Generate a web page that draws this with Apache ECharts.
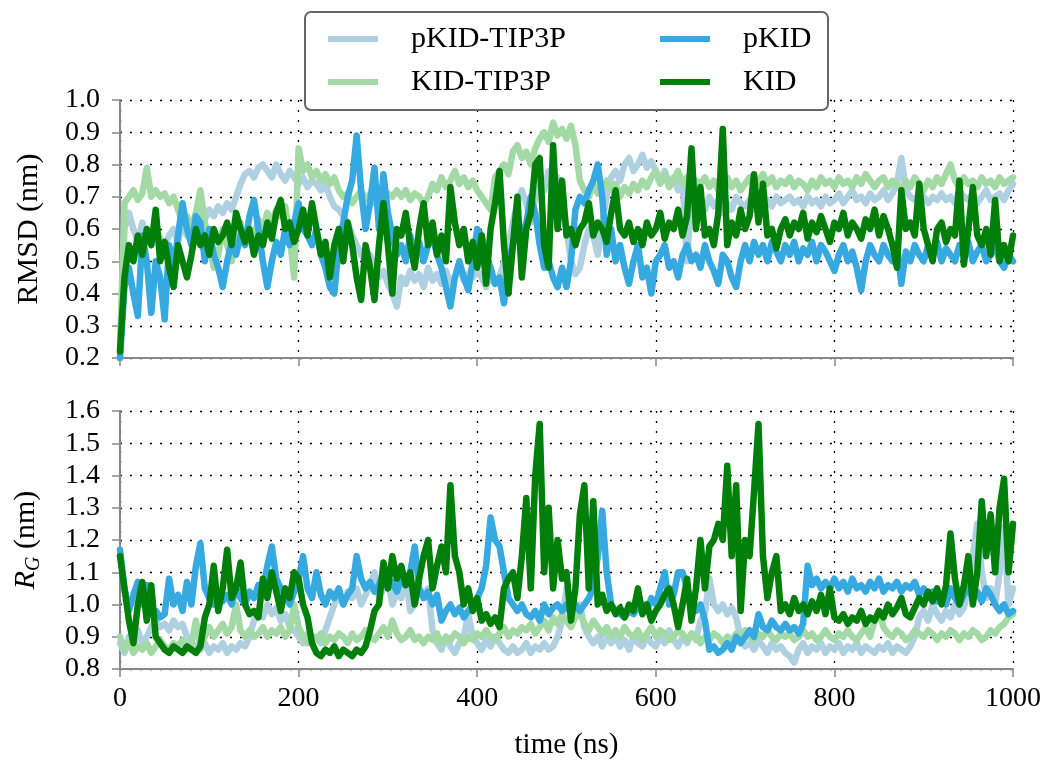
<!DOCTYPE html>
<html>
<head>
<meta charset="utf-8">
<script src="https://cdn.jsdelivr.net/npm/echarts@6/dist/echarts.min.js"></script>
<style>
  html, body { margin: 0; padding: 0; background: #fff; }
  #chart { width: 1046px; height: 762px; }
</style>
</head>
<body>
<div id="chart"></div>
<script>
// sampled every 5 ns, 0 .. 1000 ns
const STEP = 5
const xTicks = [0, 200, 400, 600, 800, 1000]

// RMSD (nm)
const rmsdPKIDT = [
  0.2, 0.6, 0.65, 0.6, 0.56, 0.62, 0.58, 0.55, 0.6, 0.57,
  0.55, 0.58, 0.6, 0.56, 0.62, 0.58, 0.6, 0.62, 0.65, 0.63,
  0.66, 0.64, 0.67, 0.65, 0.68, 0.66, 0.7, 0.74, 0.77, 0.78,
  0.76, 0.79, 0.8, 0.78, 0.76, 0.8, 0.77, 0.75, 0.78, 0.76,
  0.74, 0.76, 0.73, 0.75, 0.74, 0.72, 0.74, 0.7, 0.67, 0.66,
  0.64, 0.62, 0.58, 0.55, 0.52, 0.5, 0.52, 0.48, 0.45, 0.47,
  0.43, 0.4, 0.36, 0.45, 0.43, 0.47, 0.44, 0.46, 0.42, 0.48,
  0.44, 0.46, 0.43, 0.47, 0.43, 0.45, 0.48, 0.44, 0.46, 0.45,
  0.47, 0.45, 0.42, 0.46, 0.43, 0.45, 0.5, 0.55, 0.62, 0.68,
  0.72, 0.68, 0.62, 0.7, 0.75, 0.72, 0.78, 0.74, 0.76, 0.7,
  0.6, 0.5, 0.46, 0.48, 0.55, 0.6, 0.58, 0.52, 0.62, 0.7,
  0.76, 0.78, 0.75, 0.8, 0.82, 0.78, 0.8, 0.83, 0.79, 0.81,
  0.78, 0.75, 0.78, 0.74, 0.76, 0.72, 0.75, 0.5, 0.72, 0.7,
  0.68, 0.66, 0.7, 0.67, 0.69, 0.65, 0.68, 0.66, 0.7, 0.68,
  0.67, 0.69, 0.66, 0.7, 0.68, 0.69, 0.67, 0.7, 0.68, 0.69,
  0.7, 0.68, 0.69, 0.67, 0.7, 0.68, 0.69, 0.67, 0.7, 0.68,
  0.69, 0.71, 0.68, 0.7, 0.72, 0.69, 0.7, 0.68, 0.71, 0.69,
  0.7, 0.72, 0.69, 0.71, 0.74, 0.82, 0.72, 0.7, 0.69, 0.71,
  0.7, 0.68, 0.7, 0.69, 0.71, 0.69, 0.7, 0.68, 0.72, 0.7,
  0.69, 0.71, 0.68, 0.7, 0.72, 0.69, 0.7, 0.71, 0.69, 0.72,
  0.74
]
const rmsdKIDT = [
  0.22, 0.68, 0.7, 0.72, 0.69, 0.71, 0.79, 0.7, 0.72, 0.7,
  0.71, 0.68, 0.7, 0.66, 0.62, 0.64, 0.6, 0.65, 0.72, 0.62,
  0.55, 0.48, 0.52, 0.6, 0.55, 0.5, 0.58, 0.62, 0.55, 0.6,
  0.58, 0.63, 0.6, 0.65, 0.62, 0.66, 0.64, 0.67, 0.58, 0.45,
  0.85, 0.78, 0.8, 0.76, 0.78, 0.75, 0.77, 0.74, 0.76, 0.72,
  0.7, 0.71, 0.68, 0.7, 0.72, 0.69, 0.71, 0.68, 0.7, 0.69,
  0.71, 0.7, 0.72, 0.7, 0.72, 0.69, 0.71, 0.7, 0.68, 0.7,
  0.74, 0.72, 0.76, 0.73, 0.75, 0.78, 0.74, 0.76, 0.73, 0.75,
  0.72, 0.7, 0.68, 0.66, 0.76, 0.78, 0.8, 0.77, 0.84, 0.86,
  0.82, 0.84, 0.8, 0.85, 0.88, 0.9, 0.87, 0.93, 0.89, 0.91,
  0.88, 0.92, 0.86, 0.75, 0.72, 0.7, 0.74, 0.71, 0.72, 0.75,
  0.72, 0.74, 0.7, 0.73, 0.71, 0.74, 0.72, 0.75, 0.73, 0.76,
  0.78, 0.74, 0.77, 0.73, 0.75, 0.78, 0.74, 0.76, 0.72, 0.75,
  0.74, 0.76, 0.73, 0.75, 0.72, 0.74, 0.76, 0.73, 0.75, 0.72,
  0.74, 0.76, 0.73, 0.75, 0.77, 0.74, 0.76, 0.73, 0.75, 0.74,
  0.76, 0.73, 0.75, 0.74, 0.72, 0.75, 0.73, 0.76, 0.74, 0.75,
  0.73, 0.76, 0.74, 0.75, 0.73, 0.76, 0.74, 0.77, 0.75, 0.73,
  0.75, 0.76, 0.73, 0.75, 0.74, 0.72, 0.75, 0.73, 0.76, 0.74,
  0.72, 0.75, 0.73, 0.76, 0.74, 0.77, 0.8, 0.75, 0.73, 0.76,
  0.74, 0.75, 0.73, 0.76, 0.74, 0.75, 0.73, 0.76, 0.74, 0.75,
  0.76
]
const rmsdPKID = [
  0.2, 0.42, 0.48, 0.4, 0.33, 0.58, 0.5, 0.34, 0.5, 0.45,
  0.32, 0.55, 0.48, 0.58, 0.68, 0.6, 0.55, 0.64, 0.62, 0.5,
  0.6, 0.52, 0.48, 0.42, 0.5, 0.56, 0.52, 0.58, 0.55, 0.64,
  0.69, 0.6, 0.5, 0.42, 0.5, 0.56, 0.52, 0.6, 0.55, 0.62,
  0.68, 0.6, 0.58, 0.55, 0.6, 0.52, 0.48, 0.42, 0.4, 0.55,
  0.62, 0.7, 0.75, 0.89, 0.72, 0.6, 0.68, 0.79, 0.6, 0.77,
  0.65, 0.58, 0.52, 0.55, 0.5, 0.58, 0.52, 0.56, 0.5, 0.55,
  0.58, 0.52, 0.48, 0.42, 0.36, 0.45, 0.5, 0.45, 0.41, 0.5,
  0.6, 0.58, 0.52, 0.48, 0.43, 0.45, 0.37, 0.5, 0.55, 0.6,
  0.58, 0.62, 0.7, 0.65, 0.55, 0.48, 0.5, 0.45, 0.42, 0.48,
  0.42, 0.5, 0.66, 0.7, 0.68, 0.72, 0.75, 0.8, 0.7, 0.52,
  0.6, 0.5, 0.55, 0.48, 0.43, 0.5, 0.55, 0.45, 0.48, 0.4,
  0.5, 0.52, 0.55, 0.48, 0.5, 0.45, 0.52, 0.55, 0.5, 0.52,
  0.48, 0.55, 0.5, 0.47, 0.43, 0.52, 0.5, 0.45, 0.42, 0.5,
  0.55, 0.5, 0.56, 0.52, 0.55, 0.5, 0.56, 0.53, 0.5, 0.55,
  0.52, 0.56, 0.5, 0.54, 0.52, 0.56, 0.5, 0.55, 0.53, 0.5,
  0.47, 0.52, 0.55, 0.5, 0.53, 0.48, 0.41, 0.5, 0.55, 0.52,
  0.5, 0.55, 0.52, 0.5, 0.55, 0.43, 0.53, 0.5, 0.55, 0.52,
  0.5, 0.55, 0.52, 0.56, 0.5, 0.54, 0.52, 0.5, 0.55, 0.52,
  0.56, 0.5, 0.53, 0.55, 0.5, 0.52, 0.55, 0.5, 0.48, 0.52,
  0.5
]
const rmsdKID = [
  0.22, 0.45, 0.55, 0.5, 0.58, 0.52, 0.6, 0.55, 0.66, 0.5,
  0.56, 0.48, 0.42, 0.55, 0.5, 0.45, 0.52, 0.6, 0.55, 0.58,
  0.52, 0.6, 0.56, 0.58, 0.62, 0.55, 0.65, 0.6, 0.56, 0.6,
  0.52, 0.58, 0.55, 0.62, 0.57, 0.65, 0.69, 0.6, 0.62, 0.56,
  0.6, 0.66, 0.58, 0.68, 0.6, 0.52, 0.56, 0.45, 0.55, 0.6,
  0.5, 0.62, 0.55, 0.45, 0.38, 0.55, 0.48, 0.38, 0.55, 0.68,
  0.55, 0.4, 0.6, 0.58, 0.65, 0.55, 0.48, 0.6, 0.68, 0.55,
  0.62, 0.52, 0.58, 0.5, 0.73, 0.62, 0.55, 0.6, 0.5, 0.56,
  0.48, 0.58, 0.43, 0.6, 0.68, 0.78, 0.55, 0.4, 0.55, 0.7,
  0.45, 0.6, 0.65, 0.8, 0.82, 0.55, 0.48, 0.86, 0.6, 0.75,
  0.58, 0.6, 0.55, 0.6, 0.62, 0.68, 0.58, 0.62, 0.6, 0.56,
  0.65, 0.72, 0.6, 0.58, 0.62, 0.56, 0.6, 0.55, 0.62, 0.58,
  0.6, 0.65, 0.57, 0.62, 0.6, 0.66, 0.58, 0.64, 0.85, 0.6,
  0.73, 0.58, 0.6, 0.55, 0.65, 0.91, 0.55, 0.62, 0.58, 0.66,
  0.6, 0.64, 0.77, 0.62, 0.74, 0.58, 0.6, 0.54, 0.6, 0.63,
  0.58, 0.62, 0.6, 0.65, 0.57, 0.62, 0.59, 0.64, 0.6, 0.56,
  0.62, 0.6, 0.65, 0.58, 0.62, 0.6, 0.57, 0.63, 0.6, 0.66,
  0.58, 0.64, 0.6, 0.55, 0.48, 0.72, 0.6, 0.62, 0.58, 0.74,
  0.6, 0.55, 0.5, 0.6, 0.62, 0.56, 0.6, 0.58, 0.75, 0.49,
  0.6, 0.73, 0.58, 0.55, 0.6, 0.52, 0.69, 0.5, 0.55, 0.5,
  0.58
]

// radius of gyration (nm)
const rgPKIDT = [
  0.88, 0.85, 0.9, 0.87, 0.92, 0.88, 0.9, 0.93, 0.95, 0.93,
  0.94, 0.92, 0.95, 0.93, 0.94, 0.9, 0.88, 0.87, 0.86, 0.88,
  0.85, 0.87, 0.86, 0.88, 0.85, 0.87, 0.86, 0.88, 0.87, 0.9,
  0.95, 0.98, 0.96, 1.0, 0.97, 0.99, 0.95, 0.97, 0.93, 0.92,
  0.9, 0.88, 0.91, 0.89, 0.9, 0.88, 0.92, 0.96, 1.0, 1.03,
  1.0, 1.04, 1.02, 1.05, 1.0, 1.03, 1.06, 1.1, 1.02, 1.05,
  1.08, 1.0, 1.04, 1.02, 1.09, 0.98, 1.0, 1.05, 1.03, 1.05,
  0.92, 0.88, 0.86, 0.9, 0.87, 0.85, 0.88, 0.9, 0.97, 0.9,
  0.88, 0.86, 0.89, 0.87, 0.9, 0.88, 0.86, 0.85, 0.87, 0.85,
  0.86, 0.88, 0.85, 0.87, 0.86, 0.88, 0.86, 0.87, 0.9, 0.95,
  1.05, 1.0, 0.98, 1.0, 0.93, 0.9, 0.88, 0.9, 0.87, 0.9,
  0.88, 0.9, 0.87, 0.89, 0.86, 0.9, 0.88, 0.87, 0.9, 0.88,
  0.87, 0.9, 0.88, 0.92, 0.89, 0.87, 0.9, 0.88, 0.91, 0.89,
  0.95, 0.97, 1.08, 1.0, 0.98, 1.0, 0.97, 0.99, 0.96, 0.9,
  0.87, 0.88, 0.86, 0.89, 0.87, 0.85, 0.88, 0.86, 0.87, 0.85,
  0.84, 0.82, 0.86, 0.88, 0.85, 0.87, 0.86, 0.88, 0.85, 0.87,
  0.86, 0.88, 0.85, 0.87, 0.86, 0.88, 0.85, 0.87, 0.86, 0.85,
  0.87, 0.86, 0.88, 0.85, 0.87, 0.86, 0.85, 0.87, 0.9, 0.96,
  0.98, 0.95, 1.0, 0.97, 0.95, 0.98, 0.96, 1.0, 0.97, 0.99,
  1.05, 1.15, 1.25, 1.1, 1.02, 1.05, 1.0, 1.1, 1.24, 1.0,
  1.05
]
const rgKIDT = [
  0.9, 0.86, 0.88, 0.85, 0.87, 0.86, 0.88, 0.85, 0.87, 0.89,
  0.87, 0.86, 0.88, 0.87, 0.89, 0.86, 0.88, 0.95, 0.87, 0.9,
  0.93, 0.9, 0.92, 0.94, 0.91, 0.93, 1.0, 0.92, 0.9, 0.92,
  0.9, 0.91, 0.93, 0.9, 0.92, 0.91, 0.93, 0.9, 0.92, 1.0,
  0.93, 0.9, 0.88, 0.9, 0.89, 0.91, 0.88, 0.9, 0.89, 0.91,
  0.9, 0.88, 0.91, 0.89, 0.9, 0.92, 0.9, 0.89, 0.91, 0.93,
  0.9, 0.95, 0.91, 0.89, 0.9, 0.92, 0.89, 0.9, 0.88, 0.9,
  0.89, 0.91, 0.88, 0.9, 0.89, 0.91, 0.9, 0.88, 0.9, 0.89,
  0.91, 0.9, 0.92, 0.9, 0.89, 0.91, 0.93, 0.9, 0.92, 0.91,
  0.93, 0.92, 0.94, 0.91, 0.93, 0.95, 0.92, 0.96, 0.94, 0.97,
  0.95, 0.93, 0.96, 0.98, 0.94, 0.92, 0.95, 0.93, 0.91, 0.93,
  0.9, 0.92, 0.9, 0.93, 0.91, 0.9, 0.92, 0.89, 0.91, 0.93,
  0.9, 0.92, 0.91, 0.89, 0.9, 0.92, 0.91, 0.89, 0.91, 0.9,
  0.88, 0.9, 0.89, 0.91, 0.9, 0.88, 0.9, 0.89, 0.91, 0.9,
  0.92, 0.9, 0.89, 0.91, 0.9, 0.92, 0.9, 0.89, 0.91, 0.9,
  0.91, 0.89, 0.9, 0.92, 0.9, 0.91, 0.89, 0.9, 0.92, 0.9,
  0.89, 0.91, 0.9, 0.92, 0.9, 0.89, 0.91, 0.93, 0.9, 0.95,
  0.98, 0.93, 0.91, 0.9, 0.92, 0.91, 0.89, 0.9, 0.92, 0.91,
  0.9, 0.92, 0.91, 0.89, 0.91, 0.9, 0.92, 0.91, 0.89, 0.91,
  0.9, 0.92, 0.91, 0.89, 0.9, 0.92, 0.91, 0.93, 0.94, 0.96,
  0.97
]
const rgPKID = [
  1.17, 1.05, 0.98, 1.03, 1.07, 1.0, 1.06, 0.97, 0.98, 0.96,
  0.97, 1.08, 1.0, 1.03, 0.98, 1.07, 1.0, 1.12, 1.19, 1.05,
  1.02, 1.0, 1.04, 1.01, 1.03, 1.0, 1.05, 1.02, 1.0, 1.04,
  1.02, 1.06, 1.05, 1.12, 1.18, 1.08, 1.05, 1.03, 1.0, 1.04,
  1.08, 1.15, 1.05, 1.02, 1.1, 1.03, 1.0, 1.04, 1.02, 1.05,
  1.0, 1.03, 1.05, 1.15, 1.08, 1.05, 1.07, 1.04, 1.06, 1.1,
  1.05, 1.07, 1.04, 1.08, 1.06, 1.1, 1.18, 1.05, 1.02, 1.04,
  1.0, 1.03, 0.95, 0.98, 1.0, 0.97, 0.99, 0.96, 0.98, 1.0,
  1.02, 1.05, 1.12, 1.27, 1.2, 1.18, 1.1, 1.02, 1.0, 0.98,
  1.0, 0.97, 0.96, 0.98, 0.95, 1.0, 0.97, 0.99, 1.0, 0.98,
  1.0, 0.97, 1.0, 0.98, 1.0, 1.02, 1.05, 1.15, 1.29, 1.1,
  1.0, 0.98, 0.97, 0.96, 0.98, 0.97, 0.99, 1.0, 0.98, 1.02,
  1.0, 1.05, 1.1, 1.0, 1.03, 1.1, 1.1, 1.05, 1.0, 0.98,
  1.0, 0.95, 0.86, 0.87, 0.85, 0.86, 0.88, 0.86, 0.9, 0.88,
  0.9, 0.92, 0.9, 0.97, 0.93, 0.92, 0.95, 0.93, 0.92, 0.94,
  0.92, 0.93, 0.91, 0.94, 1.12, 1.06, 1.08, 1.05, 1.07, 1.05,
  1.08, 1.05, 1.07, 1.04, 1.08, 1.05, 1.06, 1.04, 1.07, 1.05,
  1.08, 1.04, 1.06, 1.05, 1.07, 1.04, 1.06, 1.05, 1.07, 1.03,
  1.05, 1.02, 1.04, 1.01, 1.03, 1.0, 1.05, 1.02, 1.0, 1.03,
  1.05, 1.02, 1.04, 1.01, 1.05, 1.03, 1.0, 0.98, 1.0, 0.97,
  0.98
]
const rgKID = [
  1.15, 1.05, 0.95, 0.88, 1.0, 1.07, 0.95, 1.06, 0.9, 0.88,
  0.86, 0.85, 0.87, 0.86, 0.85, 0.87, 0.86, 0.85, 0.87, 0.96,
  1.0, 1.12, 0.98, 1.05, 1.17, 1.02, 1.05, 1.13, 1.0, 0.97,
  0.98, 0.96, 1.08, 1.02, 1.1, 1.04, 0.98, 1.05, 1.02, 1.1,
  1.08, 1.0, 0.96, 0.88, 0.85, 0.84, 0.86, 0.85, 0.87, 0.84,
  0.86, 0.85, 0.84, 0.86, 0.85, 0.87, 0.92, 0.98, 1.0, 1.13,
  1.05, 1.15, 1.08, 1.12, 1.06, 1.1, 1.0, 1.08, 1.15, 1.2,
  1.05, 1.12, 1.18, 1.1, 1.37, 1.15, 1.1, 1.0, 1.05, 0.98,
  1.02, 0.95, 0.97, 0.94, 0.96, 0.93, 1.05, 1.08, 1.1, 1.02,
  1.15, 1.33, 1.05, 1.4, 1.56, 1.1, 1.3, 1.05, 1.2, 1.08,
  1.1, 0.95, 1.05, 1.28, 1.37, 1.05, 1.32, 1.0, 1.03, 0.98,
  1.0, 0.97, 0.99, 0.96, 1.0, 0.98, 1.05, 0.97, 1.0, 0.95,
  0.98, 1.0, 1.03, 1.05, 1.0, 0.93, 1.0, 1.08, 0.95, 1.05,
  1.2, 1.05, 1.18, 1.2, 1.25, 1.2, 1.43, 1.15, 1.37, 0.98,
  1.2, 1.15, 1.35, 1.56, 1.15, 1.02, 1.1, 1.15, 0.98, 1.0,
  0.97, 1.02, 0.98, 1.0, 0.97, 1.01, 0.98, 1.03, 0.97, 1.05,
  0.96, 0.95, 0.97, 0.94, 0.96, 0.95, 0.98, 0.94, 0.96, 0.95,
  0.98, 0.96, 1.0, 0.97, 0.99, 1.02, 0.97, 0.96, 0.99, 1.02,
  1.0, 1.04, 1.01, 1.05, 1.0, 1.06, 1.22, 1.08, 1.0, 1.06,
  1.15, 1.0, 1.1, 1.32, 1.15, 1.28, 1.1, 1.3, 1.39, 1.1,
  1.25
]

const colors = {
  'pKID-TIP3P': '#aed0e1',
  'KID-TIP3P': '#a3d9a4',
  'pKID': '#35a9e0',
  'KID': '#00800a'
}
const FONT = 'Liberation Serif'

function pairs(values) {
  return values.map((v, i) => [i * STEP, v])
}

function makeSeries(name, values, panel) {
  return {
    name: name,
    type: 'line',
    xAxisIndex: panel,
    yAxisIndex: panel,
    data: pairs(values),
    showSymbol: false,
    symbol: 'none',
    color: colors[name],
    lineStyle: { width: 6.5, color: colors[name], cap: 'round', join: 'round' },
    emphasis: { disabled: true },
    animation: false
  }
}

function xAxis(panel, withLabels) {
  return {
    type: 'value',
    gridIndex: panel,
    min: 0,
    max: 1000,
    interval: 200,
    axisLine: { onZero: false, lineStyle: { color: '#888', width: 2 } },
    axisTick: { show: true, inside: false, length: 8, lineStyle: { color: '#888', width: 1.5 } },
    axisLabel: {
      show: withLabels, margin: 16, color: '#000', fontFamily: FONT, fontSize: 28,
      formatter: v => xTicks.indexOf(v) >= 0 ? String(v) : ''
    },
    splitLine: { show: true, lineStyle: { color: '#000', width: 1.3, type: [2, 8] } },
    name: withLabels ? 'time (ns)' : '',
    nameLocation: 'middle',
    nameGap: 62,
    nameTextStyle: { color: '#000', fontFamily: FONT, fontSize: 29 }
  }
}

function yAxis(panel, min, max, name) {
  return {
    type: 'value',
    gridIndex: panel,
    min: min,
    max: max,
    interval: 0.1,
    axisLine: { show: true, onZero: false, lineStyle: { color: '#888', width: 2 } },
    axisTick: { show: true, inside: false, length: 8, lineStyle: { color: '#888', width: 1.5 } },
    axisLabel: {
      margin: 20, color: '#000', fontFamily: FONT, fontSize: 28,
      formatter: v => v.toFixed(1)
    },
    splitLine: { show: true, lineStyle: { color: '#000', width: 1.3, type: [2, 8] } },
    name: name,
    nameLocation: 'middle',
    nameRotate: 90,
    nameGap: 76,
    nameTextStyle: {
      color: '#000', fontFamily: FONT, fontSize: 30,
      rich: {
        r: { fontFamily: FONT, fontSize: 30, fontStyle: 'italic', color: '#000', lineHeight: 36 },
        g: { fontFamily: FONT, fontSize: 20, fontStyle: 'italic', color: '#000', lineHeight: 20, verticalAlign: 'bottom' },
        n: { fontFamily: FONT, fontSize: 30, color: '#000', lineHeight: 36 }
      }
    }
  }
}

const chart = echarts.init(document.getElementById('chart'))

chart.setOption({
  backgroundColor: '#fff',
  animation: false,
  grid: [
    { left: 120, top: 100, width: 893, height: 258 },
    { left: 120, top: 411, width: 893, height: 258 }
  ],
  xAxis: [xAxis(0, false), xAxis(1, true)],
  yAxis: [
    yAxis(0, 0.2, 1.0, 'RMSD (nm)'),
    yAxis(1, 0.8, 1.6, '{r|R}{g|G}{n| (nm)}')
  ],
  graphic: [{
    type: 'rect',
    z: 3,
    shape: { x: 305, y: 12, width: 523, height: 98, r: 6 },
    style: { fill: '#fff', stroke: '#666', lineWidth: 2 }
  }],
  legend: [
    {
      data: ['pKID-TIP3P', 'KID-TIP3P'],
      orient: 'vertical',
      left: 323, top: 19,
      itemGap: 13,
      icon: 'rect', itemWidth: 50, itemHeight: 6,
      z: 5,
      textStyle: { fontFamily: FONT, fontSize: 30, color: '#000', padding: [0, 0, 0, 28] }
    },
    {
      data: ['pKID', 'KID'],
      orient: 'vertical',
      left: 655, top: 19,
      itemGap: 13,
      icon: 'rect', itemWidth: 50, itemHeight: 6,
      z: 5,
      textStyle: { fontFamily: FONT, fontSize: 30, color: '#000', padding: [0, 0, 0, 28] }
    }
  ],
  series: [
    makeSeries('pKID-TIP3P', rmsdPKIDT, 0),
    makeSeries('KID-TIP3P', rmsdKIDT, 0),
    makeSeries('pKID', rmsdPKID, 0),
    makeSeries('KID', rmsdKID, 0),
    makeSeries('pKID-TIP3P', rgPKIDT, 1),
    makeSeries('KID-TIP3P', rgKIDT, 1),
    makeSeries('pKID', rgPKID, 1),
    makeSeries('KID', rgKID, 1)
  ]
})
</script>
</body>
</html>
